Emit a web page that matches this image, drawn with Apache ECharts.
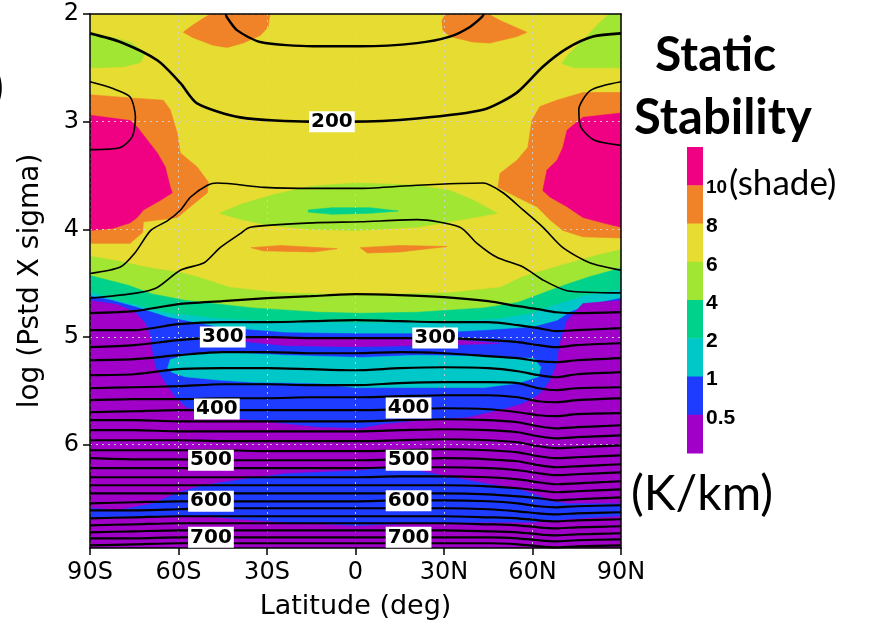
<!DOCTYPE html>
<html><head><meta charset="utf-8">
<script src="https://cdn.jsdelivr.net/npm/echarts@6/dist/echarts.min.js"></script>
<style>html,body{margin:0;padding:0;background:#fff;}#chart{width:876px;height:628px;}</style>
</head><body><div id="chart"></div>
<script>
// ---------- axes ----------
const Y_MIN = 2, Y_MAX = 6.96;
const latTickLabels = ['90S', '60S', '30S', '0', '30N', '60N', '90N'];
const logpTickValues = [2, 3, 4, 5, 6];

// ---------- shading levels (static stability, K/km) ----------
// 0:<0.5 1:0.5-1 2:1-2 3:2-4 4:4-6 5:6-8 6:8-10 7:>10
const levelColors = ['#a000c8', '#1e3cff', '#00c8c8', '#00d28c', '#a0e632', '#e6dc32', '#f08228', '#f00082'];
const levelLabels = ['0.5', '1', '2', '4', '6', '8', '10'];

// ---------- shaded regions, [latitude, log p] ----------
const shadeFull = [[-90, Y_MIN], [90, Y_MIN], [90, Y_MAX], [-90, Y_MAX]];
const greenTopS = [[-90, 2.17], [-82.2, 2.22], [-76.4, 2.26], [-71.2, 2.36], [-72.9, 2.45], [-78.7, 2.49], [-90, 2.5]];
const greenTopN = [[90, 2.0], [86, 2.0], [82, 2.1], [77, 2.25], [72, 2.38], [70, 2.46], [74, 2.5], [90, 2.5]];
const orangeTopS = [[-58.4, 2.17], [-55, 2.10], [-51, 2.03], [-49, 2.0], [-29, 2.0], [-29.6, 2.12], [-32.3, 2.2], [-38.1, 2.27], [-43.5, 2.31], [-48.3, 2.29], [-55, 2.22]];
const orangeTopN = [[29.3, 2.06], [30.5, 2.0], [45, 2.0], [49, 2.06], [58.1, 2.17], [54.7, 2.21], [45.5, 2.27], [39.8, 2.26], [32, 2.21], [29.6, 2.15]];
const orangePolarS = [[-90, 2.75], [-76.4, 2.78], [-65.2, 2.8], [-62.8, 2.89], [-60.4, 3.11], [-59.4, 3.29], [-53.7, 3.42], [-49.9, 3.56], [-50.2, 3.66], [-56, 3.79], [-60.4, 3.89], [-66.1, 3.91], [-71.9, 3.93], [-72.2, 4.03], [-76.4, 4.13], [-90, 4.13]];
const pinkPolarS = [[-90, 2.94], [-76.4, 2.99], [-74, 3.05], [-70.6, 3.17], [-67.2, 3.29], [-64.5, 3.42], [-62.8, 3.61], [-62.1, 3.66], [-66.1, 3.73], [-71.9, 3.82], [-74, 3.89], [-76.4, 3.94], [-82.2, 3.99], [-90, 4.01]];
const orangePolarN = [[90, 2.73], [77.1, 2.73], [68.3, 2.8], [62.5, 2.86], [59.8, 2.99], [58.4, 3.24], [54.7, 3.36], [49, 3.48], [48.3, 3.61], [54.7, 3.7], [61.5, 3.79], [65.9, 3.91], [70.3, 4.01], [77.1, 4.07], [90, 4.08]];
const pinkPolarN = [[90, 2.92], [77.1, 2.96], [71.7, 3.08], [70.3, 3.24], [68.3, 3.36], [64.9, 3.45], [63.5, 3.64], [65.9, 3.7], [71.7, 3.79], [77.1, 3.89], [83.9, 3.94], [90, 3.98]];
const greenLens = [[-46, 3.85], [-38, 3.76], [-28, 3.68], [-15, 3.6], [0, 3.57], [21, 3.59], [32, 3.64], [40, 3.73], [48, 3.85], [40, 3.89], [32, 3.93], [21, 3.98], [0, 4.01], [-15, 4.0], [-30, 3.96], [-40, 3.9]];
const tealStreak = [[-16, 3.82], [-8, 3.80], [5, 3.80], [14.5, 3.83], [5, 3.85], [-8, 3.86], [-16, 3.84]];
const orangeStreakS = [[-35.4, 4.17], [-25.2, 4.15], [-6.2, 4.18], [-14.3, 4.21], [-31.3, 4.2]];
const orangeStreakN = [[1.6, 4.17], [15, 4.15], [31, 4.16], [15, 4.21], [4, 4.22]];
// upper edges of the lower bands (each band extends to the bottom)
const edgeGreen = [[-90, 4.25], [-79.7, 4.30], [-69.6, 4.36], [-59.5, 4.40], [-52.7, 4.45], [-42.6, 4.54], [-25.5, 4.59], [1.6, 4.61], [32, 4.59], [49, 4.54], [56.8, 4.44], [61.5, 4.40], [71.7, 4.32], [81.9, 4.24], [90, 4.19]];
const edgeTeal = [[-90, 4.43], [-77.1, 4.52], [-69, 4.60], [-57.7, 4.66], [-35, 4.73], [-12.7, 4.77], [1.6, 4.78], [21.2, 4.77], [43.6, 4.73], [55, 4.68], [63.8, 4.59], [71.7, 4.51], [79.4, 4.44], [90, 4.36]];
const edgeCyan = [[-90, 4.58], [-81.4, 4.66], [-74.6, 4.70], [-63.4, 4.78], [-46.5, 4.83], [-23.8, 4.86], [1.6, 4.87], [32, 4.86], [49, 4.83], [60.1, 4.78], [65.9, 4.72], [71.7, 4.67], [77.1, 4.62], [90, 4.56]];
const edgeBlue = [[-90, 4.62], [-82.5, 4.66], [-74.8, 4.72], [-63.4, 4.82], [-46.5, 4.91], [-23.8, 4.96], [1.6, 4.97], [21.2, 4.97], [43.6, 4.94], [60.1, 4.91], [68.3, 4.85], [72.7, 4.77], [79.4, 4.70], [90, 4.64]];
const edgePurple = [[-90, 4.66], [-80.6, 4.70], [-74.8, 4.77], [-71.3, 4.87], [-69.6, 4.99], [-69, 5.12], [-67.9, 5.28], [-64.5, 5.43], [-61.1, 5.56], [-57.7, 5.65], [-52, 5.71], [-44.3, 5.75], [-29.8, 5.79], [-12.7, 5.84], [1.6, 5.85], [9.6, 5.81], [21.2, 5.78], [37.8, 5.75], [49, 5.68], [56.8, 5.62], [62.5, 5.53], [65.9, 5.41], [68.3, 5.25], [69.3, 5.06], [71.7, 4.85], [77.1, 4.69], [90, 4.66]];
const purpleStrip = [[-38.4, 5.02], [-23.8, 5.00], [1.6, 5.02], [21.2, 5.02], [35.7, 5.03], [49, 5.06], [35.7, 5.07], [21.2, 5.08], [0, 5.09], [-23.8, 5.08], [-38.4, 5.04]];
const cyanLens = [[-63.7, 5.29], [-62.8, 5.21], [-57.7, 5.17], [-46.5, 5.14], [-23.8, 5.17], [1.6, 5.19], [21.2, 5.17], [43.6, 5.18], [60.5, 5.20], [62.8, 5.28], [62, 5.37], [55, 5.43], [43.6, 5.47], [21.2, 5.47], [0, 5.47], [-12.7, 5.43], [-35, 5.42], [-46.5, 5.40], [-57.7, 5.37], [-62.1, 5.33]];
const blueBandTop = [[-90, 6.59], [-80.6, 6.61], [-69, 6.55], [-60.2, 6.45], [-52, 6.38], [-35, 6.31], [-23.8, 6.27], [1.6, 6.24], [9.6, 6.22], [21.2, 6.24], [30, 6.29], [43.6, 6.36], [55, 6.41], [61.5, 6.47], [66, 6.52], [72, 6.55], [90, 6.55]];
const blueBandBottom = [[90, 6.66], [72, 6.69], [60.5, 6.72], [43.6, 6.72], [21.2, 6.73], [0, 6.75], [-23.8, 6.72], [-40, 6.69], [-52, 6.66], [-60.5, 6.66], [-90, 6.68]];

function belowCurve(curve) { return curve.concat([[90, Y_MAX], [-90, Y_MAX]]); }

const shadeLayers = [
  [5, shadeFull], [4, greenTopS], [4, greenTopN], [6, orangeTopS], [6, orangeTopN],
  [6, orangePolarS], [7, pinkPolarS], [6, orangePolarN], [7, pinkPolarN],
  [4, greenLens], [3, tealStreak], [6, orangeStreakS], [6, orangeStreakN],
  [4, belowCurve(edgeGreen)], [3, belowCurve(edgeTeal)], [2, belowCurve(edgeCyan)],
  [1, belowCurve(edgeBlue)], [0, belowCurve(edgePurple)],
  [0, purpleStrip], [2, cyanLens], [1, blueBandTop.concat(blueBandBottom)]
];

// ---------- contour lines (temperature, K) ----------
const contour180 = [[-44, 2.0], [-43.6, 2.03], [-40.2, 2.15], [-32.3, 2.26], [-14.4, 2.30], [1.6, 2.30], [20.8, 2.27], [32, 2.21], [38.8, 2.12], [42.8, 2.03], [43.5, 2.0]];
const contour200 = [[-90, 2.18], [-79.7, 2.26], [-67.2, 2.43], [-59.4, 2.64], [-53.7, 2.83], [-39.1, 2.96], [-15.4, 3.0], [-1.8, 3.0], [20.9, 2.97], [43.2, 2.89], [54.7, 2.73], [63.5, 2.49], [71.7, 2.32], [80.5, 2.21], [90, 2.18]];
const contourPolarS = [[-90, 2.63], [-82.5, 2.69], [-76.4, 2.77], [-74.6, 2.96], [-75.7, 3.14], [-79.7, 3.24], [-90, 3.26]];
const contourPolarN = [[90, 2.63], [79.7, 2.71], [75.7, 2.89], [76.4, 3.05], [80.8, 3.17], [90, 3.22]];
const contour220 = [[-90, 4.41], [-79.7, 4.35], [-74.8, 4.22], [-69.4, 4.01], [-63.7, 3.92], [-59.3, 3.82], [-55.9, 3.70], [-50.2, 3.59], [-46.8, 3.57], [-30.9, 3.61], [-14.4, 3.62], [1.6, 3.62], [20.9, 3.59], [43.2, 3.57], [50, 3.66], [56.8, 3.82], [63.5, 3.98], [70.3, 4.17], [79.4, 4.31], [90, 4.38]];
const contour240 = [[-90, 4.64], [-73.9, 4.59], [-67.2, 4.54], [-59.4, 4.38], [-51.3, 4.31], [-45.9, 4.17], [-39.1, 4.04], [-35.7, 3.98], [-14.4, 3.94], [1.6, 3.93], [20.9, 3.91], [35.4, 3.98], [41.2, 4.13], [47.9, 4.26], [56.8, 4.35], [63.5, 4.47], [71.7, 4.57], [90, 4.59]];

const lineLats = [-90, -75, -60, -45, -30, -15, 0, 15, 30, 45, 55, 62, 68, 75, 90];
const lineTemps = [260, 280, 300, 320, 340, 360, 380, 400, 420, 440, 460, 480, 500, 520, 540, 560, 580, 600, 620, 640, 660, 680, 700, 720];
const lineLogP = [
  [4.779, 4.760, 4.695, 4.667, 4.639, 4.621, 4.602, 4.611, 4.630, 4.667, 4.714, 4.742, 4.770, 4.779, 4.770],
  [4.937, 4.937, 4.881, 4.862, 4.862, 4.853, 4.844, 4.853, 4.862, 4.862, 4.890, 4.918, 4.946, 4.937, 4.918],
  [5.095, 5.076, 5.030, 5.002, 5.002, 5.011, 5.011, 5.011, 5.011, 5.030, 5.048, 5.076, 5.095, 5.076, 5.058],
  [5.216, 5.206, 5.169, 5.141, 5.141, 5.151, 5.151, 5.141, 5.151, 5.178, 5.197, 5.225, 5.234, 5.216, 5.197],
  [5.355, 5.346, 5.299, 5.290, 5.290, 5.299, 5.309, 5.290, 5.281, 5.290, 5.318, 5.355, 5.374, 5.346, 5.327],
  [5.476, 5.467, 5.457, 5.439, 5.439, 5.448, 5.448, 5.429, 5.420, 5.420, 5.429, 5.476, 5.494, 5.476, 5.467],
  [5.587, 5.578, 5.578, 5.569, 5.569, 5.560, 5.560, 5.550, 5.541, 5.541, 5.560, 5.597, 5.606, 5.587, 5.569],
  [5.699, 5.690, 5.680, 5.680, 5.680, 5.680, 5.680, 5.671, 5.662, 5.671, 5.699, 5.727, 5.736, 5.717, 5.708],
  [5.773, 5.773, 5.783, 5.783, 5.783, 5.783, 5.783, 5.773, 5.764, 5.773, 5.792, 5.829, 5.848, 5.838, 5.820],
  [5.866, 5.866, 5.876, 5.876, 5.876, 5.876, 5.876, 5.866, 5.857, 5.866, 5.885, 5.922, 5.941, 5.931, 5.913],
  [5.959, 5.959, 5.959, 5.968, 5.968, 5.968, 5.968, 5.959, 5.950, 5.959, 5.978, 6.015, 6.033, 6.024, 6.006],
  [6.052, 6.052, 6.052, 6.052, 6.061, 6.061, 6.061, 6.052, 6.043, 6.052, 6.071, 6.108, 6.126, 6.117, 6.099],
  [6.126, 6.136, 6.136, 6.145, 6.145, 6.145, 6.145, 6.136, 6.126, 6.136, 6.154, 6.191, 6.210, 6.201, 6.182],
  [6.219, 6.219, 6.219, 6.219, 6.219, 6.219, 6.219, 6.210, 6.210, 6.219, 6.238, 6.266, 6.284, 6.275, 6.257],
  [6.303, 6.303, 6.303, 6.303, 6.303, 6.303, 6.303, 6.294, 6.294, 6.303, 6.322, 6.349, 6.368, 6.359, 6.340],
  [6.377, 6.377, 6.377, 6.377, 6.377, 6.377, 6.377, 6.377, 6.377, 6.387, 6.405, 6.424, 6.442, 6.433, 6.415],
  [6.452, 6.452, 6.452, 6.452, 6.452, 6.452, 6.452, 6.452, 6.452, 6.461, 6.480, 6.498, 6.517, 6.507, 6.489],
  [6.545, 6.535, 6.526, 6.526, 6.526, 6.526, 6.526, 6.517, 6.517, 6.526, 6.545, 6.572, 6.582, 6.572, 6.563],
  [6.610, 6.610, 6.600, 6.591, 6.591, 6.591, 6.591, 6.591, 6.591, 6.600, 6.619, 6.638, 6.647, 6.638, 6.628],
  [6.684, 6.675, 6.665, 6.665, 6.665, 6.665, 6.665, 6.665, 6.665, 6.675, 6.684, 6.703, 6.712, 6.703, 6.693],
  [6.749, 6.740, 6.730, 6.730, 6.730, 6.730, 6.730, 6.730, 6.730, 6.740, 6.749, 6.768, 6.777, 6.768, 6.758],
  [6.814, 6.805, 6.796, 6.796, 6.796, 6.796, 6.796, 6.796, 6.796, 6.805, 6.814, 6.833, 6.842, 6.833, 6.823],
  [6.870, 6.870, 6.861, 6.861, 6.861, 6.861, 6.861, 6.861, 6.861, 6.861, 6.870, 6.888, 6.898, 6.888, 6.879],
  [6.935, 6.926, 6.916, 6.916, 6.916, 6.916, 6.916, 6.916, 6.916, 6.916, 6.926, 6.944, 6.954, 6.944, 6.935]
];

// ---------- contour labels ----------
const labelText = ['200', '300', '300', '400', '400', '500', '500', '600', '600', '700', '700'];
const labelLat = [-8, -45, 27, -47, 18, -49, 18, -49, 18, -49, 18];
const labelLogP = [3.0, 5.0, 5.01, 5.67, 5.66, 6.145, 6.145, 6.526, 6.52, 6.861, 6.861];

// ---------- build chart ----------
const chart = echarts.init(document.getElementById('chart'), null, { renderer: 'canvas' });
const AXIS_FONT = 'DejaVu Sans';

const series = [];
series.push({
  type: 'custom', z: 1, silent: true, clip: true,
  data: shadeLayers.map((l, i) => [0, 4, i]),
  encode: { x: 0, y: 1 },
  renderItem: function (params, api) {
    const layer = shadeLayers[params.dataIndex];
    const col = levelColors[layer[0]];
    return {
      type: 'polygon', z2: params.dataIndex,
      shape: { points: layer[1].map(p => api.coord(p)) },
      style: { fill: col, stroke: col, lineWidth: 0.6 }
    };
  }
});

function addLine(pts, width) {
  series.push({
    type: 'line', z: 3, silent: true, data: pts, symbol: 'none', showSymbol: false,
    smooth: 0.25, lineStyle: { color: '#000', width: width, opacity: 1 }, animation: false
  });
}
addLine(contour180, 2.4);
addLine(contour200, 2.6);
addLine(contourPolarS, 1.6);
addLine(contourPolarN, 1.6);
addLine(contour220, 1.6);
addLine(contour240, 1.6);
lineTemps.forEach((t, i) => addLine(lineLats.map((la, j) => [la, lineLogP[i][j]]), 2.2));

series.push({
  type: 'scatter', z: 6, silent: true, symbol: 'rect', symbolSize: 1,
  itemStyle: { color: '#ffffff', opacity: 1 },
  data: labelText.map((t, i) => ({ name: t, value: [labelLat[i], labelLogP[i]] })),
  label: {
    show: true, position: 'inside', formatter: '{b}', color: '#000', opacity: 1,
    fontSize: 20, fontWeight: 'bold', fontFamily: AXIS_FONT,
    backgroundColor: '#ffffff', padding: [1, 2, 0, 2]
  }
});

// colour bar (legend)
const BAR_X = 687, BAR_TOP = 147, BAR_W = 16, SEG_H = 38.25;
const graphics = [];
for (let k = 0; k < levelColors.length; k++) {
  const lvl = levelColors.length - 1 - k;
  graphics.push({ type: 'rect', shape: { x: BAR_X, y: BAR_TOP + k * SEG_H, width: BAR_W, height: SEG_H + 0.5 }, style: { fill: levelColors[lvl] } });
}
for (let k = 1; k < levelColors.length; k++) {
  const lab = levelLabels[levelColors.length - 1 - k];
  graphics.push({
    type: 'text', x: BAR_X + BAR_W + 3, y: BAR_TOP + k * SEG_H + 3,
    style: { text: lab, fontSize: lab === '10' ? 19 : 21, fontWeight: 'bold', fontFamily: 'Liberation Sans', fill: '#000', verticalAlign: 'middle', align: 'left' }
  });
}
graphics.push(
  { type: 'text', x: 729, y: 184, style: { text: '(shade)', fontSize: 35, fontFamily: 'Lato', fill: '#000', verticalAlign: 'middle' } },
  { type: 'text', x: 655, y: 56, style: { text: 'Static', fontSize: 48, fontWeight: 'bold', fontFamily: 'Lato', fill: '#000', verticalAlign: 'middle' } },
  { type: 'text', x: 634, y: 118, style: { text: 'Stability', fontSize: 49, fontWeight: 'bold', fontFamily: 'Lato', fill: '#000', verticalAlign: 'middle' } },
  { type: 'text', x: 631, y: 495, style: { text: '(K/km)', fontSize: 48, fontFamily: 'Lato', fill: '#000', verticalAlign: 'middle' } },
  { type: 'text', x: -8, y: 88, style: { text: ')', fontSize: 44, fontFamily: 'Lato', fill: '#000', verticalAlign: 'middle' } }
);

const gridLine = { show: true, lineStyle: { color: 'rgba(210,210,210,0.9)', type: [2, 4], width: 1 } };
const option = {
  animation: false,
  backgroundColor: '#fff',
  grid: { left: 90, right: 255, top: 14, bottom: 80, outerBoundsMode: 'none' },
  xAxis: [{
    type: 'value', min: -90, max: 90, interval: 30, position: 'bottom', z: 2,
    axisLine: { show: true, onZero: false, lineStyle: { color: '#000', width: 1.5 } },
    axisTick: { show: true, inside: false, length: 7, lineStyle: { color: '#000', width: 1.5 } },
    axisLabel: { fontSize: 24, fontFamily: AXIS_FONT, color: '#000', margin: 13, formatter: v => latTickLabels[Math.round((v + 90) / 30)] },
    splitLine: gridLine,
    name: 'Latitude (deg)', nameLocation: 'middle', nameGap: 45,
    nameTextStyle: { fontSize: 27, fontFamily: AXIS_FONT, color: '#000' }
  }, {
    type: 'value', min: -90, max: 90, position: 'top', z: 4,
    axisLine: { show: true, onZero: false, lineStyle: { color: '#000', width: 1.5 } },
    axisTick: { show: false }, axisLabel: { show: false }, splitLine: { show: false }
  }],
  yAxis: [{
    type: 'value', inverse: true, min: Y_MIN, max: Y_MAX, interval: 1, position: 'left', z: 2,
    axisLine: { show: true, onZero: false, lineStyle: { color: '#000', width: 1.5 } },
    axisTick: { show: true, inside: false, length: 7, customValues: logpTickValues, lineStyle: { color: '#000', width: 1.5 } },
    axisLabel: { fontSize: 24, fontFamily: AXIS_FONT, color: '#000', margin: 11, customValues: logpTickValues, formatter: v => String(v) },
    splitLine: gridLine,
    name: 'log (Pstd X sigma)', nameLocation: 'middle', nameGap: 45, nameRotate: 90,
    nameTextStyle: { fontSize: 28, fontFamily: AXIS_FONT, color: '#000' }
  }, {
    type: 'value', inverse: true, min: Y_MIN, max: Y_MAX, position: 'right', z: 4,
    axisLine: { show: true, onZero: false, lineStyle: { color: '#000', width: 1.5 } },
    axisTick: { show: false }, axisLabel: { show: false }, splitLine: { show: false }
  }],
  graphic: graphics,
  series: series
};
chart.setOption(option);
</script></body></html>
